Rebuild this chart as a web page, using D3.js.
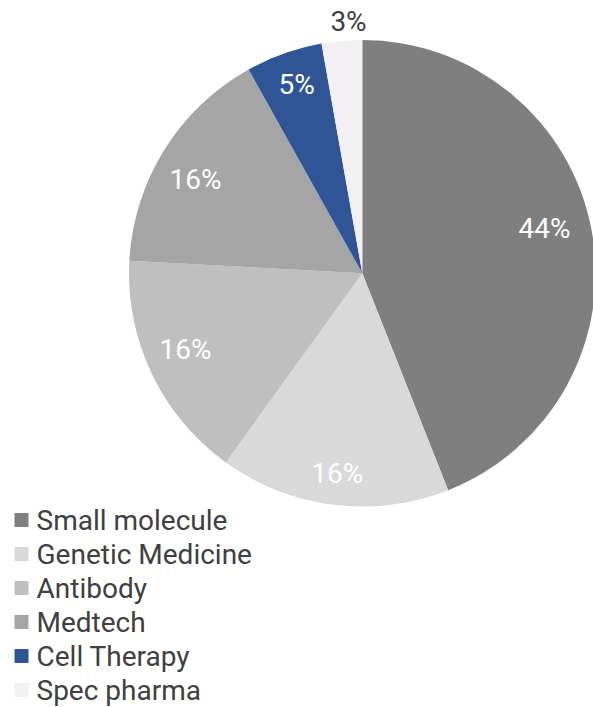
<!DOCTYPE html>
<html>
<head>
<meta charset="utf-8">
<script src="https://cdn.jsdelivr.net/npm/d3@7"></script>
<style>
  html, body { margin: 0; padding: 0; background: #ffffff; }
  svg { display: block; }
</style>
</head>
<body>
<svg id="chart" width="593" height="707"></svg>
<script>
// ---- data ----
const categories = ["Small molecule", "Genetic Medicine", "Antibody", "Medtech", "Cell Therapy", "Spec pharma"];
const values = [44.0, 15.95, 15.9, 16.05, 5.3, 2.8];
const labels = ["44%", "16%", "16%", "16%", "5%", "3%"];
const colors = ["#7f7f7f", "#d9d9d9", "#bfbfbf", "#a5a5a5", "#2f5597", "#f2f0f2"];

// ---- layout ----
const W = 593, H = 707;
const cx = 362.3, cy = 273.3, R = 233.3;
const font = "Roboto, 'Noto Sans', sans-serif";

const svg = d3.select("#chart");
const data = categories.map((c, i) => ({ name: c, value: values[i], label: labels[i], color: colors[i] }));

const pie = d3.pie().value(d => d.value).sort(null);
const arcs = pie(data);
const arc = d3.arc().innerRadius(0).outerRadius(R);

const g = svg.append("g").attr("transform", `translate(${cx},${cy})`);
g.selectAll("path.slice")
  .data(arcs)
  .join("path")
  .attr("class", "slice")
  .attr("d", arc)
  .attr("fill", d => d.data.color);

// label placement (layout): radius factor and small angular nudge (degrees) from slice middle
const labelRadiusFactor = [0.805, 0.864, 0.825, 0.82, 0.855, 1.079];
const labelAngleNudge = [-3.1, 0, 2.3, -2.6, 0.4, 1.9];
g.selectAll("text.lbl")
  .data(arcs)
  .join("text")
  .attr("class", "lbl")
  .attr("transform", (d, i) => {
    const a = (d.startAngle + d.endAngle) / 2 + labelAngleNudge[i] * Math.PI / 180;
    const r = R * labelRadiusFactor[i];
    return `translate(${r * Math.sin(a)},${-r * Math.cos(a)})`;
  })
  .attr("text-anchor", "middle")
  .attr("dominant-baseline", "central")
  .attr("font-family", font)
  .attr("font-size", 28)
  .attr("fill", (d, i) => i === data.length - 1 ? "#404040" : "#ffffff")
  .text(d => d.data.label);

// legend
const legendX = 14.5, legendY0 = 520, legendStep = 34, box = 14;
const lg = svg.append("g");
const rows = lg.selectAll("g.row")
  .data(data)
  .join("g")
  .attr("class", "row")
  .attr("transform", (d, i) => `translate(${legendX},${legendY0 + i * legendStep})`);
rows.append("rect")
  .attr("x", 0).attr("y", -box / 2)
  .attr("width", box).attr("height", box)
  .attr("fill", d => d.color);
rows.append("text")
  .attr("x", 22)
  .attr("y", 10)
  .attr("font-family", font)
  .attr("font-size", 28)
  .attr("fill", "#404040")
  .text(d => d.name);
</script>
</body>
</html>
